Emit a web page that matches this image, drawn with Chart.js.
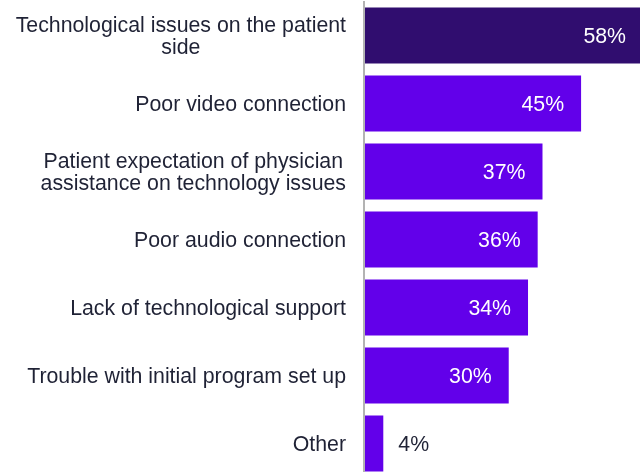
<!DOCTYPE html>
<html>
<head>
<meta charset="utf-8">
<title>Technology issues</title>
<script src="https://cdn.jsdelivr.net/npm/chart.js@4.4.1/dist/chart.umd.min.js"></script>
<style>
  html, body { margin: 0; padding: 0; background: #fff; overflow: hidden; }
  #wrap { width: 660px; height: 480px; }
</style>
</head>
<body>
<div id="wrap"><canvas id="issues" width="660" height="480"></canvas></div>
<script>
// categories, one entry per bar (multi-line labels as arrays)
const categories = [
  ["Technological issues on the patient", "side"],
  ["Poor video connection"],
  ["Patient expectation of physician", "assistance on technology issues"],
  ["Poor audio connection"],
  ["Lack of technological support"],
  ["Trouble with initial program set up"],
  ["Other"]
];
const shares = [58, 45, 37, 36, 34, 30, 4];

const FONT = '21.3px "Liberation Sans", Arial, sans-serif';
const TEXT = "#1f2235";
const DARK = "#300d6f";
const BRIGHT = "#6200ea";

// category names, right-aligned block with each line centred inside it
const categoryLabels = {
  id: "categoryLabels",
  afterDraw(chart) {
    const ctx = chart.ctx;
    const y = chart.scales.y;
    const right = chart.chartArea.left - 18;
    ctx.save();
    ctx.font = FONT;
    ctx.fillStyle = TEXT;
    ctx.textAlign = "center";
    ctx.textBaseline = "middle";
    categories.forEach((lines, i) => {
      const w = Math.max(...lines.map(l => ctx.measureText(l).width));
      const cx = right - w / 2;
      const cy = y.getPixelForTick(i) + 1.5;
      lines.forEach((l, j) => {
        ctx.fillText(l, cx, cy + (j - (lines.length - 1) / 2) * 22);
      });
    });
    ctx.restore();
  }
};

// percentage labels: inside the bar end, or just past it for short bars
const valueLabels = {
  id: "valueLabels",
  afterDatasetsDraw(chart) {
    const ctx = chart.ctx;
    const meta = chart.getDatasetMeta(0);
    ctx.save();
    ctx.font = FONT;
    ctx.textBaseline = "middle";
    meta.data.forEach((bar, i) => {
      const txt = shares[i] + "%";
      const len = bar.x - bar.base;
      if (len > 60) {
        ctx.fillStyle = "#ffffff";
        ctx.textAlign = "right";
        ctx.fillText(txt, Math.min(bar.x, 643) - 17, bar.y + 2);
      } else {
        ctx.fillStyle = TEXT;
        ctx.textAlign = "left";
        ctx.fillText(txt, bar.x + 15, bar.y + 2);
      }
    });
    ctx.restore();
  }
};

new Chart(document.getElementById("issues"), {
  type: "bar",
  data: {
    labels: categories,
    datasets: [{
      data: shares,
      backgroundColor: c => c.dataIndex === 0 ? DARK : BRIGHT,
      borderWidth: 0,
      categoryPercentage: 1,
      barPercentage: 0.824
    }]
  },
  plugins: [categoryLabels, valueLabels],
  options: {
    indexAxis: "y",
    responsive: false,
    animation: false,
    events: [],
    layout: { padding: { top: 1.5, bottom: 2.5, left: 0, right: 8 } },
    plugins: { legend: { display: false }, tooltip: { enabled: false } },
    scales: {
      x: {
        display: false,
        min: 0,
        max: 59.7
      },
      y: {
        grid: { display: false, drawTicks: false },
        border: { display: true, color: "#b3b3b3", width: 2, z: 1 },
        ticks: { display: false },
        afterFit(scale) { scale.width = 364; }
      }
    }
  }
});
</script>
</body>
</html>
